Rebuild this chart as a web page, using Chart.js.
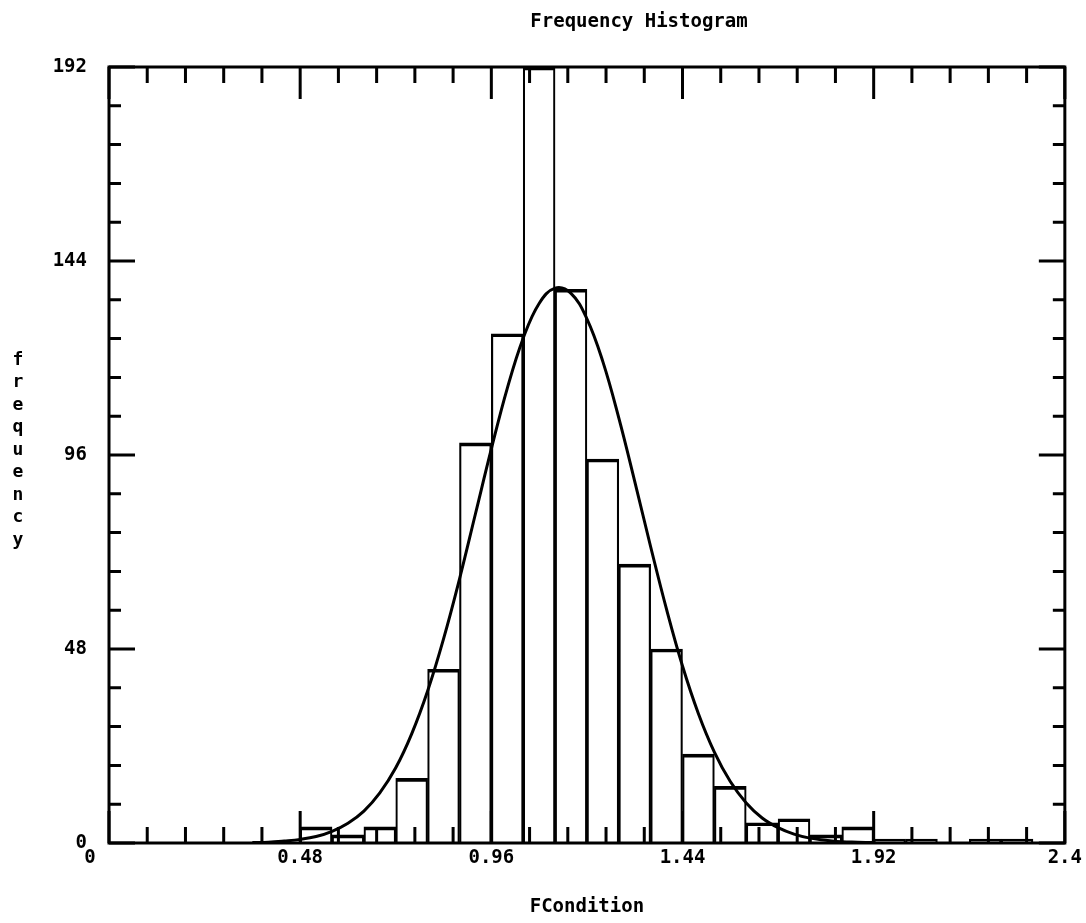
<!DOCTYPE html>
<html>
<head>
<meta charset="utf-8">
<title>Frequency Histogram</title>
<script src="https://cdn.jsdelivr.net/npm/chart.js@4.4.1/dist/chart.umd.min.js"></script>
<style>
  html, body { margin: 0; padding: 0; background: #fff; }
  canvas { display: block; }
</style>
</head>
<body>
<canvas id="histChart" width="1086" height="923"></canvas>
<script>
// histogram bins (width 0.08), centre of each bin and its count
const binCenters = [0.52, 0.60, 0.68, 0.76, 0.84, 0.92, 1.00, 1.08, 1.16, 1.24, 1.32, 1.40,
                    1.48, 1.56, 1.64, 1.72, 1.80, 1.88, 1.96, 2.04, 2.12, 2.20, 2.28, 2.36];
const binCounts = [4, 2, 4, 16, 43, 99, 126, 192, 137, 95, 69, 48,
                   22, 14, 5, 6, 2, 4, 1, 1, 0, 1, 1, 0];

// fitted curve, every 0.04
const curveX = [0.36, 0.40, 0.44, 0.48, 0.52, 0.56, 0.60, 0.64, 0.68, 0.72, 0.76, 0.80,
                0.84, 0.88, 0.92, 0.96, 1.00, 1.04, 1.08, 1.12, 1.16, 1.20, 1.24, 1.28,
                1.32, 1.36, 1.40, 1.44, 1.48, 1.52, 1.56, 1.60, 1.64, 1.68, 1.72, 1.76,
                1.80, 1.84, 1.88, 1.92];
const curveY = [0.1, 0.2, 0.5, 0.9, 1.6, 2.9, 4.9, 7.9, 12.4, 18.6, 27.0, 37.6,
                50.5, 65.3, 81.4, 97.5, 112.5, 124.9, 133.5, 137.3, 136.0, 129.7, 119.1, 105.2,
                89.5, 73.3, 57.8, 43.8, 32.0, 22.5, 15.2, 9.9, 6.2, 3.8, 2.2, 1.2,
                0.7, 0.3, 0.2, 0.1];

const xTickLabels = [0, 0.48, 0.96, 1.44, 1.92, 2.4];
const yTickLabels = [0, 48, 96, 144, 192];
const chartTitle = 'Frequency Histogram';
const yTitle = 'frequency';

const FONT = '"DejaVu Sans Mono", monospace';

// frame, inward tick marks, the title and the stacked y title
const frameTicks = {
    id: 'frameTicks',
    afterDatasetsDraw(chart) {
        const { ctx, chartArea: a, scales: { x, y } } = chart;
        ctx.save();
        ctx.strokeStyle = '#000';
        ctx.lineWidth = 3;
        ctx.strokeRect(a.left, a.top, a.right - a.left, a.bottom - a.top);

        ctx.beginPath();
        for (let i = 0; i <= 25; i++) {
            const px = x.getPixelForValue(i * 0.096);
            const len = i % 5 === 0 ? 32 : 16;
            ctx.moveTo(px, a.bottom);
            ctx.lineTo(px, a.bottom - len);
            ctx.moveTo(px, a.top);
            ctx.lineTo(px, a.top + len);
        }
        for (let i = 0; i <= 20; i++) {
            const py = y.getPixelForValue(i * 9.6);
            const len = i % 5 === 0 ? 26 : 12;
            ctx.moveTo(a.left, py);
            ctx.lineTo(a.left + len, py);
            ctx.moveTo(a.right, py);
            ctx.lineTo(a.right - len, py);
        }
        ctx.stroke();

        ctx.fillStyle = '#000';
        ctx.textAlign = 'center';
        ctx.textBaseline = 'middle';

        // title sits right of the plot centre in the original
        ctx.font = 'bold 19px ' + FONT;
        ctx.fillText(chartTitle, 639, 22);

        // y title, letters stacked upright
        ctx.font = 'bold 18px ' + FONT;
        const step = 22.5;
        yTitle.split('').forEach((ch, i) => {
            ctx.fillText(ch, 18, 450 + (i - (yTitle.length - 1) / 2) * step);
        });
        ctx.restore();
    }
};

const ctx = document.getElementById('histChart').getContext('2d');
new Chart(ctx, {
    type: 'bar',
    data: {
        datasets: [
            {
                type: 'line',
                data: curveX.map((v, i) => ({ x: v, y: curveY[i] })),
                borderColor: '#000',
                borderWidth: 3,
                pointRadius: 0,
                tension: 0.4,
                order: 0
            },
            {
                type: 'bar',
                data: binCenters.map((v, i) => ({ x: v, y: binCounts[i] })),
                backgroundColor: 'rgba(0,0,0,0)',
                borderColor: '#000',
                borderWidth: { top: 3, left: 1.5, right: 1.5, bottom: 0 },
                borderSkipped: false,
                barPercentage: 1,
                categoryPercentage: 1,
                order: 1
            }
        ]
    },
    options: {
        responsive: false,
        animation: false,
        layout: { padding: { left: 0, right: 18, top: 67, bottom: 0 } },
        plugins: {
            legend: { display: false },
            tooltip: { enabled: false },
            title: { display: false }
        },
        scales: {
            x: {
                type: 'linear',
                min: 0,
                max: 2.4,
                offset: false,
                grid: { display: false, drawTicks: false },
                border: { display: false },
                // the "0" label is printed a little left of the corner in the original
                afterBuildTicks: axis => {
                    axis.ticks = xTickLabels.map(v => ({ value: v === 0 ? -0.048 : v }));
                },
                afterFit: axis => { axis.height = 80; },
                ticks: {
                    color: '#000',
                    padding: 4,
                    maxRotation: 0,
                    font: { family: FONT, size: 19, weight: 'bold' },
                    callback: (v, i) => String(xTickLabels[i])
                },
                title: {
                    display: true,
                    text: 'FCondition',
                    color: '#000',
                    font: { family: FONT, size: 19, weight: 'bold' },
                    padding: { top: 0, bottom: 5 }
                }
            },
            y: {
                min: 0,
                max: 192,
                grid: { display: false, drawTicks: false },
                border: { display: false },
                afterBuildTicks: axis => { axis.ticks = yTickLabels.map(v => ({ value: v })); },
                afterFit: axis => { axis.width = 109; },
                ticks: {
                    color: '#000',
                    padding: 22,
                    font: { family: FONT, size: 19, weight: 'bold' }
                }
            }
        }
    },
    plugins: [frameTicks]
});
</script>
</body>
</html>
